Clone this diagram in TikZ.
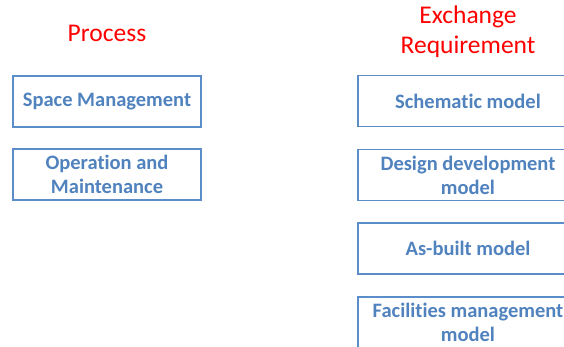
\documentclass[tikz,border=0pt]{standalone}
\usepackage{fontspec}
\setmainfont[Ligatures=NoCommon]{Carlito}
\usetikzlibrary{positioning}
\definecolor{boxblue}{RGB}{91,141,200}
\definecolor{txtblue}{RGB}{80,130,190}
\begin{document}
\begin{tikzpicture}[x=1pt,y=-1pt,
    stepbox/.style={draw=boxblue,line width=1.6pt,minimum height=51pt,align=center,
      text=txtblue,font=\bfseries\fontsize{20.5}{24}\selectfont,inner sep=0pt},
    procbox/.style={stepbox,minimum width=188pt},
    exbox/.style={stepbox,minimum width=220pt},
    heading/.style={text=red,align=center,font=\fontsize{25.5}{30}\selectfont}]
        \useasboundingbox (0,0) rectangle (564,347);
        \node[heading] (proc) at (107,33) {Process};
        \node[heading] (exch) at (468,32) {Exchange\\Requirement};
        \node[procbox] (space) at (107,101.5) {Space Management};
        \node[procbox] (oper) at (107,174.5) {Operation and\\Maintenance};
        \node[exbox] (schem) at (468,101) {Schematic model};
        \node[exbox] (design) at (468,175) {Design development\\model};
        \node[exbox] (asbuilt) at (468,248.5) {As-built model};
        \node[exbox] (fm) at (468,322.5) {Facilities management\\model};
      \end{tikzpicture}
\end{document}
